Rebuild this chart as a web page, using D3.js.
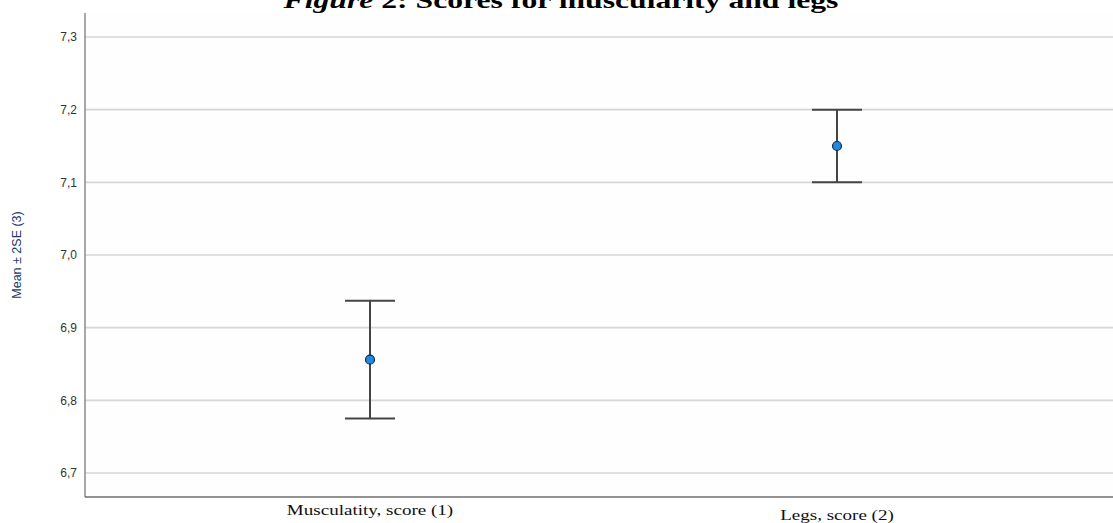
<!DOCTYPE html>
<html>
<head>
<meta charset="utf-8">
<script src="https://cdn.jsdelivr.net/npm/d3@7"></script>
<style>
  body { margin: 0; background: #fff; }
  svg { display: block; }
</style>
</head>
<body>
<svg id="chart" width="1113" height="523"></svg>
<script>
// data
const categories = ["Musculatity, score (1)", "Legs, score (2)"];
const means = [6.856, 7.150];
const lower = [6.775, 7.100];
const upper = [6.937, 7.200];
const yTicks = [6.7, 6.8, 6.9, 7.0, 7.1, 7.2, 7.3];

const width = 1113, height = 523;
const margin = { top: 13, right: 0, bottom: 26, left: 85 };

const svg = d3.select("#chart");

// the categories are not centred in the visible plot, the source was cropped
const x = d3.scalePoint()
    .domain(categories)
    .range([136.5, 1070.5])
    .padding(0.5);

const y = d3.scaleLinear()
    .domain([6.667, 7.333])
    .range([height - margin.bottom, margin.top]);

// plot background
svg.append("rect")
    .attr("x", margin.left)
    .attr("y", margin.top)
    .attr("width", width - margin.left - margin.right)
    .attr("height", height - margin.top - margin.bottom)
    .attr("fill", "#fefefe");

// gridlines
svg.append("g")
    .selectAll("line")
    .data(yTicks)
    .enter()
    .append("line")
    .attr("x1", margin.left)
    .attr("x2", width - margin.right)
    .attr("y1", (d) => y(d))
    .attr("y2", (d) => y(d))
    .attr("stroke", "#d6d6d6")
    .attr("stroke-width", 1.6);

// y axis
const fmt = (d) => d.toFixed(1).replace(".", ",");
const yAxis = svg.append("g")
    .attr("transform", `translate(${margin.left},0)`)
    .call(d3.axisLeft(y).tickValues(yTicks).tickFormat(fmt).tickSize(0).tickPadding(8));
yAxis.select(".domain").remove();
yAxis.selectAll("text")
    .attr("font-family", "'Liberation Sans', Arial, sans-serif")
    .attr("font-size", 12)
    .attr("fill", "#333");

svg.append("line")
    .attr("x1", margin.left)
    .attr("x2", margin.left)
    .attr("y1", margin.top)
    .attr("y2", height - margin.bottom)
    .attr("stroke", "#8a8a8a")
    .attr("stroke-width", 1.5);

// x axis line
svg.append("line")
    .attr("x1", margin.left)
    .attr("x2", width - margin.right)
    .attr("y1", height - margin.bottom)
    .attr("y2", height - margin.bottom)
    .attr("stroke", "#6e6e6e")
    .attr("stroke-width", 1.5);

// category labels: the source is stretched sideways, the second label sits lower
const labelY = [515, 520];
svg.append("g")
    .selectAll("text")
    .data(categories)
    .enter()
    .append("text")
    .attr("transform", (d, i) => `translate(${x(d)},${labelY[i]}) scale(1.27,1)`)
    .attr("text-anchor", "middle")
    .attr("font-family", "'Liberation Serif', 'Times New Roman', serif")
    .attr("font-size", 15)
    .attr("fill", "#111")
    .text((d) => d);

// y axis title
svg.append("text")
    .attr("transform", `translate(21,${(margin.top + height - margin.bottom) / 2}) rotate(-90)`)
    .attr("text-anchor", "middle")
    .attr("font-family", "'Liberation Sans Narrow', 'Liberation Sans', Arial, sans-serif")
    .attr("font-size", 12.5)
    .attr("fill", "#23396a")
    .text("Mean ± 2SE (3)");

// error bars
const capHalf = 25;
const bars = svg.append("g")
    .selectAll("g")
    .data(categories)
    .enter()
    .append("g");

bars.append("line")
    .attr("x1", (d) => x(d))
    .attr("x2", (d) => x(d))
    .attr("y1", (d, i) => y(upper[i]))
    .attr("y2", (d, i) => y(lower[i]))
    .attr("stroke", "#444")
    .attr("stroke-width", 2);

bars.selectAll(".cap")
    .data((d, i) => [{ c: d, v: upper[i] }, { c: d, v: lower[i] }])
    .enter()
    .append("line")
    .attr("class", "cap")
    .attr("x1", (d) => x(d.c) - capHalf)
    .attr("x2", (d) => x(d.c) + capHalf)
    .attr("y1", (d) => y(d.v))
    .attr("y2", (d) => y(d.v))
    .attr("stroke", "#444")
    .attr("stroke-width", 2);

bars.append("circle")
    .attr("cx", (d) => x(d))
    .attr("cy", (d, i) => y(means[i]))
    .attr("r", 4.5)
    .attr("fill", "#1e88e5")
    .attr("stroke", "#1f2d3d")
    .attr("stroke-width", 1.2);

// title, clipped at the top like the source
svg.append("text")
    .attr("transform", "translate(561,8) scale(1.32,1)")
    .attr("text-anchor", "middle")
    .attr("font-family", "'Liberation Serif', 'Times New Roman', serif")
    .attr("font-size", 24)
    .attr("font-weight", "bold")
    .attr("fill", "#000")
    .html('<tspan font-style="italic">Figure</tspan> 2: Scores for muscularity and legs');
</script>
</body>
</html>
